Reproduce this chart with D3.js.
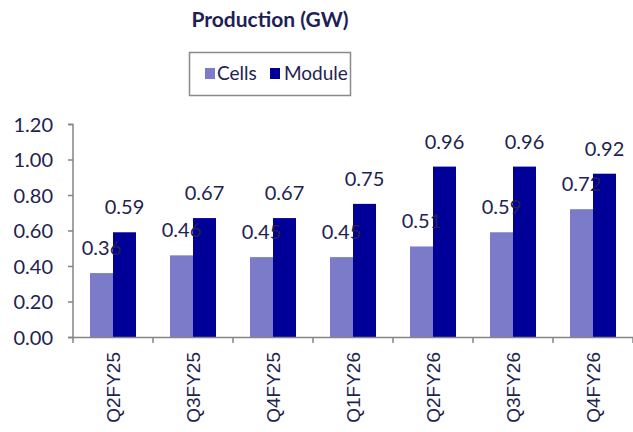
<!DOCTYPE html>
<html><head><meta charset="utf-8">
<script src="https://cdn.jsdelivr.net/npm/d3@7"></script>
<style>body{margin:0;background:#fff}</style>
</head><body>
<svg id="c" width="633" height="432"></svg>
<script>
const categories = ["Q2FY25","Q3FY25","Q4FY25","Q1FY26","Q2FY26","Q3FY26","Q4FY26"];
const cells = [0.36,0.46,0.45,0.45,0.51,0.59,0.72];
const module = [0.59,0.67,0.67,0.75,0.96,0.96,0.92];
const seriesNames = ["Cells","Module"];
const yTicks = [0,0.2,0.4,0.6,0.8,1.0,1.2];

const colors = {Cells:"#7b7bc9", Module:"#000099"};
const textColor = "#22224f";
const axisColor = "#858585";
const numFont = "Lato, 'Open Sans', sans-serif";

const svg = d3.select("#c");
const x = d3.scaleBand().domain(categories).range([73,633]).paddingInner(0).paddingOuter(0);
const y = d3.scaleLinear().domain([0,1.2]).range([337,124]);
const x1 = d3.scaleBand().domain(seriesNames).range([0,46]);
const groupOff = (x.bandwidth()-46)/2;

// title
svg.append("text").attr("x",270).attr("y",27).attr("text-anchor","middle")
  .attr("font-family",numFont).attr("font-weight","bold").attr("font-size",21)
  .attr("fill","#1f1f55").text("Production (GW)");

// legend
svg.append("rect").attr("x",189.5).attr("y",52.5).attr("width",161).attr("height",43)
  .attr("fill","#fff").attr("stroke","#8a8a8a").attr("stroke-width",1.5);
const leg = [{n:"Cells",sx:205,tx:217},{n:"Module",sx:270,tx:284}];
leg.forEach(d=>{
  svg.append("rect").attr("x",d.sx).attr("y",68).attr("width",10).attr("height",11).attr("fill",colors[d.n]);
  svg.append("text").attr("x",d.tx).attr("y",80).attr("font-family",numFont).attr("font-size",19)
    .attr("fill",textColor).text(d.n);
});

// y axis
const yAxis = d3.axisLeft(y).tickValues(yTicks).tickFormat(d3.format(".2f")).tickSize(5).tickPadding(15);
const gy = svg.append("g").attr("transform","translate(73,0)").call(yAxis);
gy.select(".domain").attr("stroke",axisColor).attr("stroke-width",1.5).attr("d","M-5,124.5H0V337.5H-5");
gy.selectAll(".tick line").attr("stroke",axisColor).attr("stroke-width",1.5);
gy.selectAll(".tick text").attr("font-family",numFont).attr("font-size",20).attr("fill",textColor).attr("dy","0.35em");

// bars
const data = categories.map((c,i)=>({c, vals:[{s:"Cells",v:cells[i]},{s:"Module",v:module[i]}]}));
const g = svg.append("g");
data.forEach(d=>{
  d.vals.forEach(v=>{
    const bx = x(d.c)+groupOff+x1(v.s);
    g.append("rect").attr("x",bx).attr("y",y(v.v)).attr("width",x1.bandwidth()).attr("height",y(0)-y(v.v))
      .attr("fill",colors[v.s]);
  });
});
// labels
data.forEach(d=>{
  d.vals.forEach(v=>{
    const bx = x(d.c)+groupOff+x1(v.s)+x1.bandwidth()/2;
    g.append("text").attr("x",bx).attr("y",y(v.v)-18).attr("text-anchor","middle")
      .attr("font-family",numFont).attr("font-size",20).attr("fill",textColor).text(v.v.toFixed(2));
  });
});

// x axis
const gx = svg.append("g").attr("transform","translate(0,337)");
gx.append("line").attr("x1",73).attr("x2",633).attr("y1",0.5).attr("y2",0.5).attr("stroke",axisColor).attr("stroke-width",1.5);
const bounds = categories.map(c=>x(c)).concat([x.range()[1]]);
gx.selectAll("line.t").data(bounds).join("line").attr("class","t")
  .attr("x1",d=>d).attr("x2",d=>d).attr("y1",0).attr("y2",6).attr("stroke",axisColor).attr("stroke-width",1.5);
gx.selectAll("text").data(categories).join("text")
  .attr("transform",d=>`translate(${x(d)+x.bandwidth()/2+7},15) rotate(-90)`)
  .attr("text-anchor","end").attr("font-family","'Liberation Sans', Arial, sans-serif").attr("font-size",19)
  .attr("fill",textColor).text(d=>d);
</script>
</body></html>
